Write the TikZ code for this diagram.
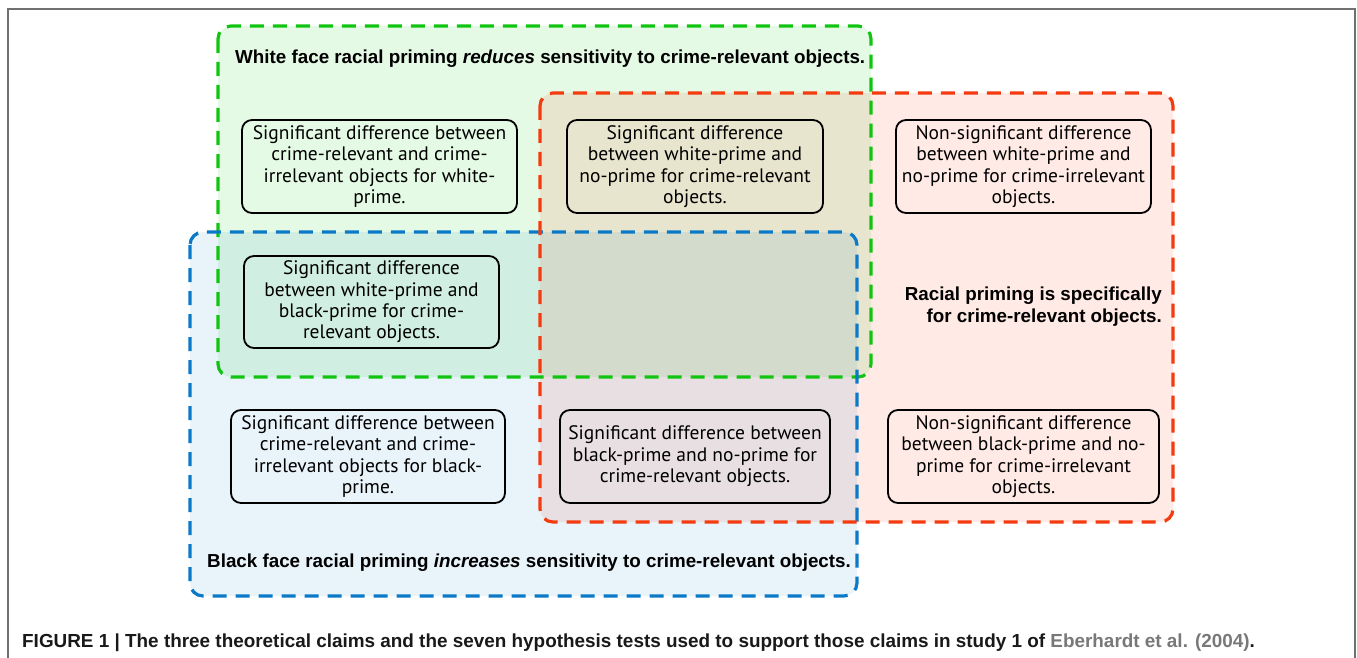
\documentclass[tikz,border=0pt]{standalone}
\usepackage{fontspec}
\setmainfont{PT Sans}
\newfontfamily\headfont{Liberation Sans}
\definecolor{gline}{RGB}{17,196,17}
\definecolor{rline}{RGB}{244,58,15}
\definecolor{bline}{RGB}{10,122,200}
\definecolor{gfill}{RGB}{0,204,0}
\definecolor{rfill}{RGB}{255,51,0}
\definecolor{bfill}{RGB}{0,119,204}
\definecolor{frame}{RGB}{112,112,112}
\definecolor{refgray}{RGB}{120,120,120}
\tikzset{
  region/.style={line width=3.2pt, dash pattern=on 14pt off 9pt, rounded corners=13pt},
  testbox/.style={draw=black, line width=1.8pt, rounded corners=10pt, align=center,
    minimum height=93pt, inner sep=2pt, font=\fontsize{19.5}{21.4}\selectfont},
  headtext/.style={font=\headfont\bfseries\fontsize{18.8}{22}\selectfont, inner sep=0pt},
}
\begin{document}
\begin{tikzpicture}[x=1pt,y=-1pt]
\useasboundingbox (0,0) rectangle (1357,658);
% frame
\draw[frame, line width=1.5pt] (8,658) -- (8,9) -- (1355,9) -- (1355,658);
% region fills
\fill[gfill, fill opacity=0.1, rounded corners=13pt] (218,26) rectangle (871,377);
\fill[rfill, fill opacity=0.1, rounded corners=13pt] (540,93) rectangle (1173,522);
\fill[bfill, fill opacity=0.09, rounded corners=13pt] (190,232) rectangle (857,596);
% region borders
\draw[region, gline] (218,26) rectangle (871,377);
\draw[region, bline] (190,232) rectangle (857,596);
\draw[region, rline] (540,93) rectangle (1173,522);
% headings
\node[headtext, anchor=west] (hwhite) at (235,59) {White face racial priming \textit{reduces} sensitivity to crime-relevant objects.};
\node[headtext, anchor=west] (hblack) at (207,563) {Black face racial priming \textit{increases} sensitivity to crime-relevant objects.};
\node[headtext, anchor=east, align=right] (hracial) at (1162,307) {Racial priming is specifically\\for crime-relevant objects.};
% test boxes
\node[testbox, minimum width=275pt] (b1) at (379.5,166.5) {Significant difference between\\crime-relevant and crime-\\irrelevant objects for white-\\prime.};
\node[testbox, minimum width=256pt] (b2) at (695,166.5) {Significant difference\\between white-prime and\\no-prime for crime-relevant\\objects.};
\node[testbox, minimum width=255pt] (b3) at (1023.5,166.5) {Non-significant difference\\between white-prime and\\no-prime for crime-irrelevant\\objects.};
\node[testbox, minimum width=255pt, minimum height=92pt] (b4) at (371.5,302) {Significant difference\\between white-prime and\\black-prime for crime-\\relevant objects.};
\node[testbox, minimum width=274pt] (b5) at (368,456.5) {Significant difference between\\crime-relevant and crime-\\irrelevant objects for black-\\prime.};
\node[testbox, minimum width=270pt] (b6) at (695,456.5) {Significant difference between\\black-prime and no-prime for\\crime-relevant objects.};
\node[testbox, minimum width=271pt] (b7) at (1023.5,456.5) {Non-significant difference\\between black-prime and no-\\prime for crime-irrelevant\\objects.};
% caption
\node[anchor=west, inner sep=0pt, font=\headfont\bfseries\fontsize{18.9}{22}\selectfont, text=black!90] (cap) at (22,643) {FIGURE 1 | The three theoretical claims and the seven hypothesis tests used to support those claims in study 1 of \textcolor{refgray}{Eberhardt et al. (2004)}.};
\end{tikzpicture}
\end{document}
